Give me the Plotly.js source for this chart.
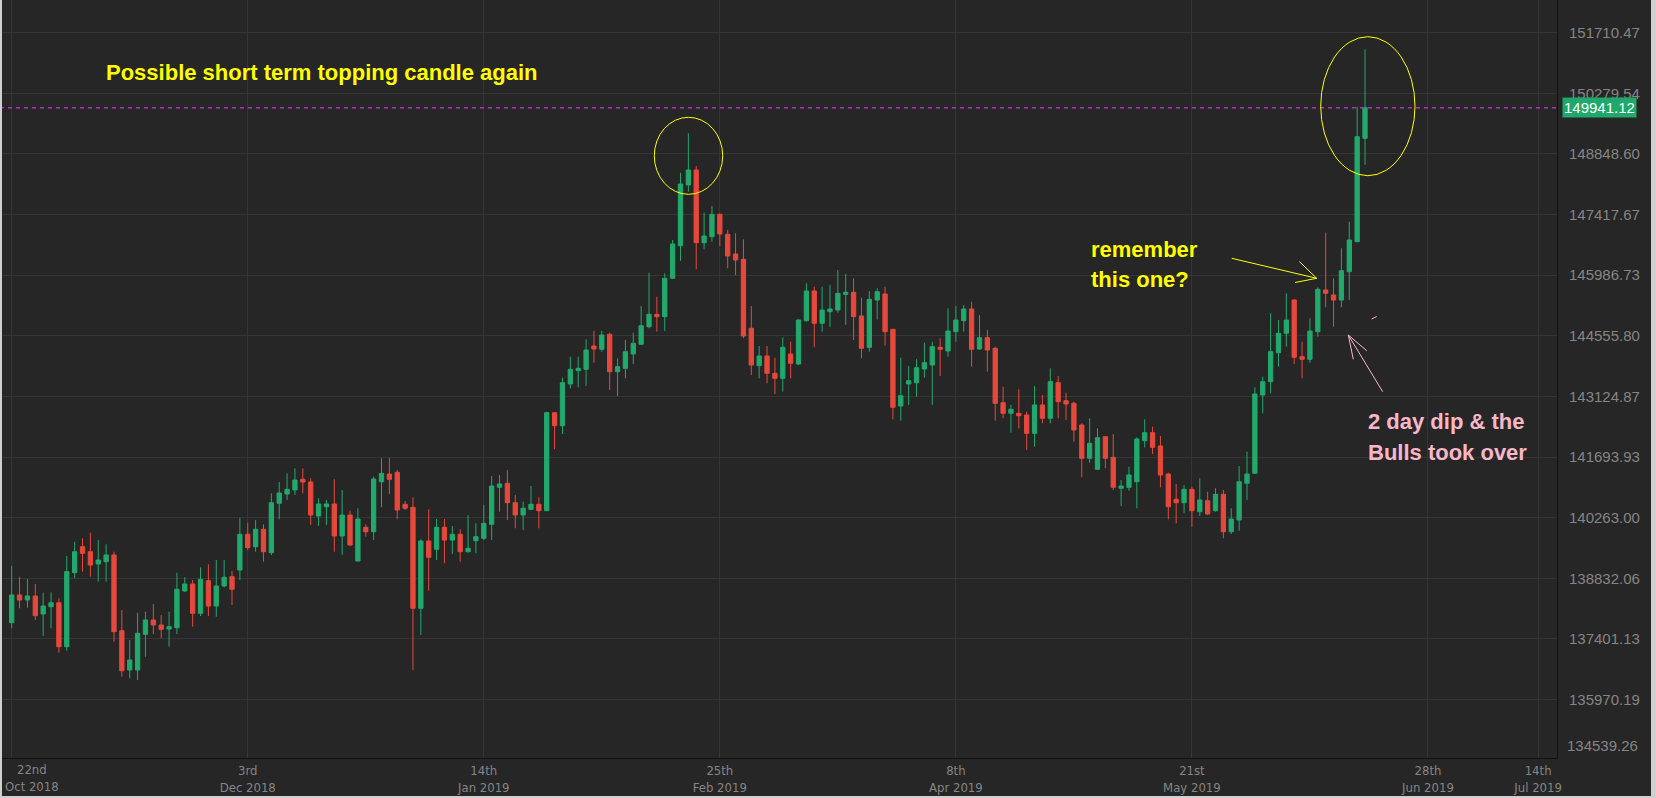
<!DOCTYPE html>
<html>
<head>
<meta charset="utf-8">
<script src="https://cdn.plot.ly/plotly-3.0.1.min.js"></script>
<style>
html,body{margin:0;padding:0;background:#262626;}
#chart{width:1656px;height:798px;}
</style>
</head>
<body>
<div id="chart"></div>
<script>
// ---- data (daily candles) ----
const openP = [137783,138437,138319,138413,137989,138161,138255,137217,138963,139577,
139459,139169,139223,139381,137594,136667,136667,137509,137847,137729,
137634,137665,138532,138697,138005,138775,138177,138650,138869,139027,
139870,139577,139988,139436,140602,140821,140916,141168,141104,140302,
140521,140585,139830,140325,139240,140035,139931,141111,141293,141333,
140578,140507,138123,139712,139516,140035,139735,139870,139459,139719,
139775,140106,140979,141074,140616,140325,140460,140578,140427,142740,
142433,143418,143732,143765,144315,144237,144591,143708,143788,144126,
144355,144770,145063,145007,145913,146682,148115,148469,146753,146895,
147423,146951,146486,146361,144733,143850,144079,143670,143552,144126,
143890,144912,145613,144851,145125,145164,145535,145582,145023,144284,
145400,145542,144709,142898,143418,143448,143772,143866,144284,144197,
144652,144912,145188,144244,144511,144260,142976,142726,142726,142686,
142254,142922,142608,143448,143024,142962,142450,141664,141404,142174,
141687,140956,140979,141111,142079,142268,141954,141293,140696,140616,
140932,140403,140663,140427,140814,139931,140207,141074,141310,143158,
143472,144157,144615,145400,144062,144001,144652,145637,145519,145400,
146068,146777,149217];
const highP = [139122,138869,138815,138697,138491,138501,138359,139358,139695,139775,
139908,139735,139634,139459,138083,137375,138019,138043,138225,137965,
138043,138963,138855,138791,139091,139162,139263,139263,139004,140262,
140144,140207,140106,140838,141104,141310,141428,141428,141192,140720,
140680,141168,140916,140427,140484,140106,141229,141664,141678,141388,
140656,140743,139752,140460,140231,140231,140066,139988,140325,140129,
140561,141246,141270,141388,140798,140640,141010,140743,142764,142740,
143566,144062,144062,144473,144669,144669,144629,144024,144456,144629,
145259,146045,145478,146031,146817,148405,149336,148564,147461,147619,
147447,147053,146975,146833,145259,144315,144315,144039,144520,144416,
144945,145795,145714,145714,145755,146109,146014,145913,145455,145613,
145677,145714,144709,144039,143843,144001,144393,144416,144496,145205,
145259,145283,145360,145046,144692,144298,143354,142922,143293,142764,
143371,143158,143788,143607,143212,143000,142490,142608,142372,142191,
142237,141152,141466,142160,142584,142410,142191,141324,141057,141034,
140994,141192,140875,140956,140916,140484,141482,141820,143340,143590,
145087,144928,145559,145417,144416,144969,145700,146989,145913,146621,
147249,149963,151318];
const lowP = [137651,138123,138137,137847,137469,137651,137075,137122,138831,138987,
138869,138751,138751,137335,136508,136471,136431,136981,137516,137415,
137217,137516,138515,137689,137941,137941,137925,138619,138201,138791,
139499,139459,139223,139381,140224,140680,140798,140838,140089,140066,
140089,139459,139381,139594,139223,139813,139735,140507,140821,140224,
140443,136667,137493,138538,139263,139185,139405,139223,139436,139421,
139735,139735,140403,140207,140012,139971,140443,140012,140427,141876,
142237,143316,143340,143371,143921,144180,143276,143134,143552,143890,
144338,144733,144652,144669,145896,146321,147957,146125,146597,146777,
146675,146149,145991,144497,143630,143552,143434,143182,143236,143552,
143866,144888,144284,144652,144770,145101,144810,144456,144024,144180,
144945,144322,142584,142551,142922,143118,143566,142922,143607,144062,
144416,144652,143826,144220,143708,142551,142608,142268,142372,141860,
141938,142490,142490,142608,142568,142056,141215,141560,141388,141428,
140916,140538,140899,140484,141923,141765,140979,140224,140129,140365,
140049,140302,140325,140403,139775,139877,139955,140680,141293,142726,
143198,143826,144298,143890,143552,143921,144534,145228,144770,145228,
145400,146777,148587];
const closeP = [138437,138319,138413,137948,138177,138255,137217,138987,139459,139421,
139145,139263,139381,137571,136650,136903,137533,137847,137729,137627,
137689,138572,138697,138005,138808,138177,138650,138855,138572,139870,
139554,139988,139459,140616,140845,140932,141152,141104,140325,140585,
140585,139830,140325,139617,140231,139931,141175,141310,141168,140443,
140484,138123,139712,139327,140035,139735,139870,139459,139539,139813,
140129,141010,141057,140616,140325,140484,140578,140427,142740,142433,
143448,143765,143788,144220,144244,144574,143708,143826,144180,144378,
144794,145063,145007,145913,146722,148139,148469,146753,146911,147423,
146958,146439,146345,144551,143866,144079,143670,143552,144284,143906,
144928,145613,144851,145164,145188,145559,145582,145007,144260,145417,
145596,144652,142868,143141,143496,143802,143921,144298,144237,144669,
144928,145188,144237,144511,144220,142962,142726,142820,142669,142254,
142922,142608,143472,143000,142946,142332,141664,142018,142150,141664,
140979,141010,141270,142119,142268,141923,141270,140521,140616,140932,
140427,140680,140349,140814,139931,140231,141111,141293,143182,143472,
144180,144615,144928,144048,144001,144669,145653,145559,145400,146092,
146817,149255,149941.12];
const lastPrice = 149941.12;
const lastLabel = '149941.12';

// x tick positions (trading-day index) and labels
const xTickIdx = [0,30,60,90,120,150,180,194];
const xTickText = ['', '3rd<br>Dec 2018','14th<br>Jan 2019','25th<br>Feb 2019','8th<br>Apr 2019','21st<br>May 2019','28th<br>Jun 2019','14th<br>Jul 2019'];
const firstXLabel = '22nd<br>Oct 2018';

// y tick labels
const yTickVals = [134539.26,135970.19,137401.13,138832.06,140263.00,141693.93,143124.87,144555.80,145986.73,147417.67,148848.60,150279.54,151710.47];
const yTickText = ['','135970.19','137401.13','138832.06','140263.00','141693.93','143124.87','144555.80','145986.73','147417.67','148848.60','150279.54','151710.47'];
const bottomYLabel = '134539.26';

const idx = openP.map((_, i) => i);

// ---- layout helpers (pixel -> paper) ----
const PW = 1557, PH = 758;
const px = x => x / PW;
const py = y => 1 - y / PH;

const GREEN = '#22a96c', RED = '#e6493c', YEL = '#ffff00', PINK = '#f8b7c9';
const AXC = '#858585';
const AXF = 'Liberation Sans, Arial, sans-serif';
const NARROW = 'Liberation Sans Narrow, Arial Narrow, DejaVu Sans Condensed, Liberation Sans, sans-serif';

const trace = {
  type: 'candlestick',
  x: idx, open: openP, high: highP, low: lowP, close: closeP,
  increasing: {line: {color: GREEN, width: 1}, fillcolor: GREEN},
  decreasing: {line: {color: RED, width: 1}, fillcolor: RED},
  hoverinfo: 'none'
};

function seg(x0,y0,x1,y1,color){
  return {type:'line', xref:'paper', yref:'paper', x0:px(x0), y0:py(y0), x1:px(x1), y1:py(y1), line:{color:color, width:1}};
}
function strip(x0,y0,x1,y1){
  return {type:'rect', xref:'paper', yref:'paper', x0:px(x0), y0:py(y0), x1:px(x1), y1:py(y1), line:{width:0}, fillcolor:'#cfcfcf', layer:'above'};
}

const shapes = [
  {type:'line', xref:'paper', yref:'y', x0:0, x1:1, y0:lastPrice, y1:lastPrice,
   line:{color:'#b42fc0', width:1.5, dash:'4px,4px'}},
  {type:'circle', xref:'paper', yref:'paper', x0:px(654.3), x1:px(722.7), y0:py(194.3), y1:py(117.3), line:{color:YEL, width:1}},
  {type:'circle', xref:'paper', yref:'paper', x0:px(1320.7), x1:px(1415), y0:py(175.7), y1:py(36.7), line:{color:YEL, width:1}},
  seg(1231.7,258.3,1316.7,278.3,YEL),
  seg(1299.3,261.5,1316.7,278.3,YEL),
  seg(1295,282.5,1316.7,278.3,YEL),
  seg(1382.7,391.7,1348.3,335,PINK),
  seg(1353.3,359.3,1348.3,335,PINK),
  seg(1366.7,350.7,1348.3,335,PINK),
  seg(1371.7,319,1376.7,316.5,PINK),
  // light frame of the screenshot
  strip(0,0,2,798),
  strip(1651,0,1656,798),
  strip(0,796,1656,798)
];

const txtFont = c => ({family:'Liberation Sans, Arial, sans-serif', size:22, color:c, weight:'bold'});
function note(text, x, y, c){
  return {text:'<b>'+text+'</b>', xref:'paper', yref:'paper', x:px(x), y:py(y), xanchor:'left', yanchor:'middle', showarrow:false, font:txtFont(c)};
}

const annotations = [
  note('Possible short term topping candle again', 104, 72, YEL),
  note('remember', 1089, 249, YEL),
  note('this one?', 1089, 279, YEL),
  note('2 day dip &amp; the', 1366, 421, PINK),
  note('Bulls took over', 1366, 452, PINK),
  {text:lastLabel, xref:'paper', yref:'y', x:1, y:lastPrice, xanchor:'left', yanchor:'middle', xshift:5,
   showarrow:false, bgcolor:'#1fa86b', borderpad:1, font:{family:AXF, size:15, color:'#ffffff'}},
  {text:bottomYLabel, xref:'paper', yref:'paper', x:1, y:py(745), xanchor:'left', yanchor:'middle', xshift:8,
   showarrow:false, font:{family:AXF, size:15, color:AXC}},
  {text:firstXLabel, xref:'paper', yref:'paper', x:px(32), y:0, xanchor:'center', yanchor:'top', yshift:-2,
   showarrow:false, font:{family:NARROW, size:13, color:AXC}}
];

const layout = {
  width:1656, height:798,
  margin:{l:0, r:99, t:0, b:40, pad:0},
  paper_bgcolor:'#262626', plot_bgcolor:'#262626',
  showlegend:false,
  boxgap:0.22,
  xaxis:{
    range:[-1.487, 196.4], rangeslider:{visible:false}, type:'linear',
    tickmode:'array', tickvals:xTickIdx, ticktext:xTickText,
    showgrid:true, gridcolor:'#353535', gridwidth:1, zeroline:false,
    showline:true, linecolor:'#111111', linewidth:1, ticks:'', ticklabelstandoff:0,
    tickfont:{family:NARROW, size:13, color:AXC},
    fixedrange:true
  },
  yaxis:{
    range:[152482 - 758*23.605, 152482], side:'right',
    tickmode:'array', tickvals:yTickVals, ticktext:yTickText,
    showgrid:true, gridcolor:'#353535', gridwidth:1, zeroline:false,
    showline:true, linecolor:'#111111', linewidth:1, ticks:'', ticklabelstandoff:8,
    tickfont:{family:AXF, size:15, color:AXC},
    fixedrange:true
  },
  shapes:shapes,
  annotations:annotations
};

Plotly.newPlot('chart', [trace], layout, {staticPlot:true, displayModeBar:false});
</script>
</body>
</html>
